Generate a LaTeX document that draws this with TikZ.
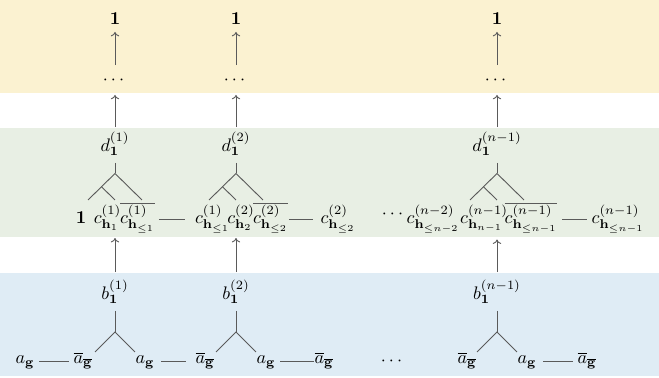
\documentclass[tikz,border=0pt]{standalone}
\usepackage{amsmath,amssymb}
\usetikzlibrary{arrows.meta}
\definecolor{ybg}{HTML}{FBF2D1}
\definecolor{gbg}{HTML}{E8EFE4}
\definecolor{bbg}{HTML}{DFECF5}
\definecolor{lnc}{HTML}{5A5A5A}
\newcommand{\tbar}[1]{\setbox0\hbox{$#1$}\rlap{\color{lnc}\rule[\dimexpr\ht0+0.5pt\relax]{\wd0}{0.45pt}}\box0}
\begin{document}
\begin{tikzpicture}[x=0.55pt,y=-0.55pt,
  lbl/.style={inner sep=0pt,outer sep=0pt,text=black},
  ln/.style={draw=lnc,line width=0.5pt},
  arr/.style={ln,-{To[length=2.4pt,width=4.6pt]}},
  hl/.style={ln}]
\fill[ybg] (0,0) rectangle (659,93);
\fill[gbg] (0,128) rectangle (659,237);
\fill[bbg] (0,273) rectangle (659,376);
\useasboundingbox (0,0) rectangle (659,378);

% top band
\foreach \i/\x in {1/115,2/236,3/497}{
  \node[lbl] (top\i) at (\x,18.5) {$\mathbf{1}$};
  \node[lbl] (dots\i) at (\x,80) {$\cdots$};
}
% d labels
\node[lbl] (d1) at (115,144) {$d^{(1)}_{\mathbf{1}}$};
\node[lbl] (d2) at (236,144) {$d^{(2)}_{\mathbf{1}}$};
\node[lbl] (d3) at (497,144) {$d^{(n-1)}_{\mathbf{1}}$};
% c row
\node[lbl,anchor=base] (one) at (81,223.5) {$\mathbf{1}$};
\node[lbl,anchor=base] (c11) at (107.5,223.5) {$c^{(1)}_{\mathbf{h}_1}$};
\node[lbl,anchor=base] (c12) at (137.5,223.5) {\tbar{c^{(1)}_{\mathbf{h}_{\leq 1}}}};
\node[lbl,anchor=base] (c21) at (212.5,223.5) {$c^{(1)}_{\mathbf{h}_{\leq 1}}$};
\node[lbl,anchor=base] (c22) at (241,223.5) {$c^{(2)}_{\mathbf{h}_2}$};
\node[lbl,anchor=base] (c23) at (270.5,223.5) {\tbar{c^{(2)}_{\mathbf{h}_{\leq 2}}}};
\node[lbl,anchor=base] (c24) at (338,223.5) {$c^{(2)}_{\mathbf{h}_{\leq 2}}$};
\node[lbl] (cdots) at (394,214) {$\cdots$};
\node[lbl,anchor=base] (cn1) at (433,223.5) {$c^{(n-2)}_{\mathbf{h}_{\leq n-2}}$};
\node[lbl,anchor=base] (cn2) at (484,223.5) {$c^{(n-1)}_{\mathbf{h}_{n-1}}$};
\node[lbl,anchor=base] (cn3) at (531,223.5) {\tbar{c^{(n-1)}_{\mathbf{h}_{\leq n-1}}}};
\node[lbl,anchor=base] (cn4) at (618,223.5) {$c^{(n-1)}_{\mathbf{h}_{\leq n-1}}$};
% b labels
\node[lbl] (b1) at (115,292) {$b^{(1)}_{\mathbf{1}}$};
\node[lbl] (b2) at (236,292) {$b^{(2)}_{\mathbf{1}}$};
\node[lbl] (b3) at (497,292) {$b^{(n-1)}_{\mathbf{1}}$};
% bottom row
\node[lbl,anchor=base] (a1) at (25,364) {$a_{\mathbf{g}}$};
\node[lbl,anchor=base] (ab1) at (83,364) {$\overline{a}_{\overline{\mathbf{g}}}$};
\node[lbl,anchor=base] (a2) at (145,364) {$a_{\mathbf{g}}$};
\node[lbl,anchor=base] (ab2) at (205,364) {$\overline{a}_{\overline{\mathbf{g}}}$};
\node[lbl,anchor=base] (a3) at (266,364) {$a_{\mathbf{g}}$};
\node[lbl,anchor=base] (ab3) at (324,364) {$\overline{a}_{\overline{\mathbf{g}}}$};
\node[lbl] (bdots) at (393,361) {$\cdots$};
\node[lbl,anchor=base] (ab4) at (467,364) {$\overline{a}_{\overline{\mathbf{g}}}$};
\node[lbl,anchor=base] (a4) at (527,364) {$a_{\mathbf{g}}$};
\node[lbl,anchor=base] (ab5) at (587,364) {$\overline{a}_{\overline{\mathbf{g}}}$};

% vertical arrows
\foreach \i in {1,2,3}{
  \draw[arr,shorten <=6pt,shorten >=4.2pt] (dots\i) -- (top\i);
  \draw[arr,shorten <=2.75pt,shorten >=6pt] (d\i) -- (dots\i);
}
\draw[arr,shorten <=4.4pt,shorten >=4pt] (b1.north) -- (b1.north |- c11.south);
\draw[arr,shorten <=4.4pt,shorten >=4pt] (b2.north) -- (b2.north |- c22.south);
\draw[arr,shorten <=4.4pt,shorten >=4pt] (b3.north) -- (b3.north |- cn2.south);

% d trees
\foreach \i/\x in {1/115,2/236,3/497}{
  \coordinate (dr\i) at (\x,173.5);
  \coordinate (dl\i) at ({\x-27},200);
  \coordinate (drr\i) at ({\x+27},200);
  \coordinate (dm\i) at ({\x-13.5},186.75);
  \coordinate (di\i) at (\x,200);
  \draw[ln,shorten <=3.85pt] (d\i) -- (dr\i);
  \draw[ln] (dl\i) -- (dr\i) -- (drr\i);
  \draw[ln] (dm\i) -- (di\i);
}
% b trees
\foreach \i/\x in {1/115,2/236,3/497}{
  \coordinate (br\i) at (\x,332);
  \coordinate (bl\i) at ({\x-20},352);
  \coordinate (brr\i) at ({\x+20},352);
  \draw[ln,shorten <=3.85pt] (b\i) -- (br\i);
  \draw[ln] (bl\i) -- (br\i) -- (brr\i);
}

% horizontal connectors, c row
\draw[hl,shorten <=2.2pt,shorten >=5.5pt] ([yshift=2pt]c12.base east) -- ([yshift=2pt]c21.base west);
\draw[hl,shorten <=0.5pt,shorten >=4.4pt] ([yshift=2pt]c23.base east) -- ([yshift=2pt]c24.base west);
\draw[hl,shorten <=2.75pt,shorten >=2.75pt] ([yshift=2pt]cn3.base east) -- ([yshift=2pt]cn4.base west);
% horizontal connectors, bottom row
\draw[hl,shorten <=2.75pt,shorten >=2.75pt] ([yshift=1.65pt]a1.base east) -- ([yshift=1.65pt]ab1.base west);
\draw[hl,shorten <=3.85pt,shorten >=5pt] ([yshift=1.65pt]a2.base east) -- ([yshift=1.65pt]ab2.base west);
\draw[hl,shorten <=2.75pt,shorten >=0.5pt] ([yshift=1.65pt]a3.base east) -- ([yshift=1.65pt]ab3.base west);
\draw[hl,shorten <=3.85pt,shorten >=2.75pt] ([yshift=1.65pt]a4.base east) -- ([yshift=1.65pt]ab5.base west);
\end{tikzpicture}
\end{document}
